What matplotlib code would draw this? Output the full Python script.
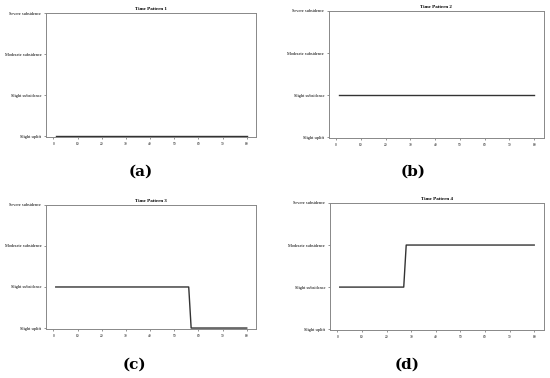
import matplotlib.pyplot as plt

# subsidence levels on the y axis
levels = ["Slight uplift", "Slight subsidence", "Moderate subsidence", "Severe subsidence"]
xticks = [0, 10, 20, 30, 40, 50, 60, 70, 80]

# each pattern given by its breakpoints (time step, level index)
t1 = [1, 80]
y1 = [0, 0]
t2 = [1, 80]
y2 = [1, 1]
t3 = [1, 56, 57, 80]
y3 = [1, 1, 0, 0]
t4 = [1, 27, 28, 80]
y4 = [1, 1, 2, 2]

titles = ["Time Pattern 1", "Time Pattern 2", "Time Pattern 3", "Time Pattern 4"]
panel_labels = ["(a)", "(b)", "(c)", "(d)"]

fig = plt.figure(figsize=(5.5, 3.78), dpi=100)

# [left, bottom, width, height]
boxes = [[0.084, 0.637, 0.382, 0.328],
         [0.598, 0.635, 0.391, 0.336],
         [0.084, 0.130, 0.382, 0.328],
         [0.600, 0.127, 0.389, 0.336]]
label_pos = [(0.255, 0.545), (0.751, 0.545), (0.245, 0.035), (0.740, 0.035)]

series = [(t1, y1), (t2, y2), (t3, y3), (t4, y4)]

for i in range(4):
    ax = fig.add_axes(boxes[i])
    t, y = series[i]
    ax.plot(t, y, color="#333333", lw=1.0)
    ax.set_xlim(-2.95, 83.95)
    ax.set_ylim(-0.02, 3.0)
    ax.set_yticks(range(len(levels)))
    ax.set_yticklabels(levels, family="Liberation Serif", fontsize=3.2)
    ax.set_xticks(xticks)
    ax.set_xticklabels([str(v) for v in xticks], family="Liberation Serif", fontsize=2.5)
    ax.tick_params(length=1.5, width=0.5, pad=2, color="#666666")
    for s in ax.spines.values():
        s.set_color("#888888")
        s.set_linewidth(0.7)
    ax.set_title(titles[i], family="Liberation Serif", fontsize=3.6,
                 fontweight="bold", pad=2)
    fig.text(label_pos[i][0], label_pos[i][1], panel_labels[i],
             family="DejaVu Serif", fontsize=11, fontweight="bold",
             ha="center", va="center")

fig.savefig("out.png", dpi=100)
